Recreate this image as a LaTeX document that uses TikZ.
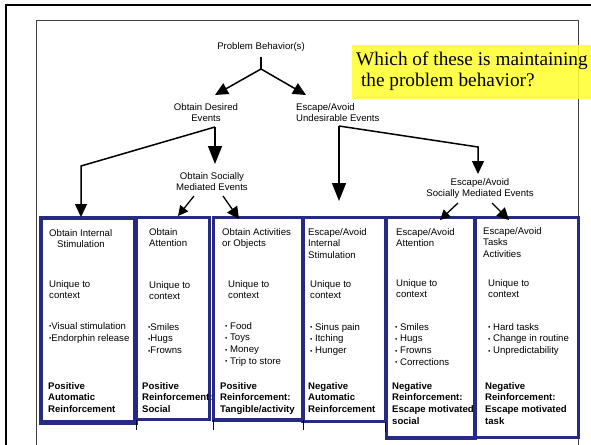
\documentclass[tikz,border=0pt]{standalone}
\usepackage{fontspec}
\setmainfont{Liberation Sans}
\newfontfamily\timesf{Liberation Serif}
\usetikzlibrary{arrows.meta}
\definecolor{navy}{RGB}{38,42,130}
\definecolor{hiyel}{RGB}{255,255,51}
\newcommand\bul{{\fontsize{6.5}{6}\selectfont\raisebox{0.7pt}{•}}}
\begin{document}
\begin{tikzpicture}[x=1pt,y=-1pt,
  txt/.style={inner sep=0pt, font=\fontsize{9.6}{11.8}\selectfont, align=left, anchor=north west},
  btxt/.style={txt, font=\fontsize{9.6}{11.8}\selectfont\bfseries},
  ctxt/.style={inner sep=0pt, font=\fontsize{9.6}{11.6}\selectfont, align=center, anchor=north},
  bx/.style={draw=navy, anchor=north west, inner sep=0pt, line width=1.8pt},
  conn/.style={draw=black, line width=1.5pt},
  arr/.style={conn, -{Triangle[length=13pt,width=12pt]}},
  bigarr/.style={conn, -{Triangle[length=18pt,width=14pt]}},
  smallarr/.style={draw=black, line width=1.3pt, -{Triangle[length=10pt,width=10pt]}},
  tick/.style={draw=black, line width=0.8pt}]
\useasboundingbox (0,0) rectangle (591,444);
\clip (0,0) rectangle (591,444);
\fill[white] (0,0) rectangle (591,444);

% frames
\draw[line width=2pt] (6,450) -- (6,5) -- (600,5);
\draw[line width=0.9pt, black!75] (36,450) -- (36,20) -- (578,20) -- (578,450);

% highlight
\fill[hiyel, fill opacity=0.88] (352,45) rectangle (600,99);
\node[inner sep=0pt, anchor=north west, align=left, font=\timesf\fontsize{19.3}{21}\selectfont] (q) at (356,52)
  {Which of these is maintaining\\\hspace*{4.8pt}the problem behavior?};

% top texts
\node[inner sep=0pt, font=\fontsize{9.6}{11.6}\selectfont] (pb) at (261,47) {Problem Behavior(s)};
\node[ctxt] (od) at (206,103) {Obtain Desired\\Events};
\node[txt] (ea) at (296,103) {Escape/Avoid\\Undesirable Events};
\node[ctxt] (osm) at (212,172) {Obtain Socially\\Mediated Events};
\node[ctxt] (esm) at (480,178) {Escape/Avoid\\Socially Mediated Events};

% boxes
\node[bx, line width=3pt, minimum width=93pt, minimum height=203pt] (b1) at (40,217) {};
\node[bx, minimum width=72pt, minimum height=201pt] (b2) at (136,217) {};
\node[bx, line width=2.4pt, minimum width=88pt, minimum height=201pt] (b3) at (213,217) {};
\node[bx, minimum width=82pt, minimum height=203pt] (b4) at (302,217) {};
\node[bx, line width=2.4pt, minimum width=87pt, minimum height=219pt] (b5) at (386,217) {};
\node[bx, line width=2pt, minimum width=103pt, minimum height=219pt] (b6) at (474,217) {};

% box 1
\node[txt] (t1a) at (49,229) {Obtain Internal\\\hspace*{8pt}Stimulation};
\node[txt] (t1b) at (49,280) {Unique to\\context};
\node[txt] (t1c) at (49,322.5) {\bul Visual stimulation\\\bul Endorphin release};
\node[btxt] (t1d) at (48,382) {Positive\\Automatic\\Reinforcement};
% box 2
\node[txt] (t2a) at (149,228) {Obtain\\Attention};
\node[txt] (t2b) at (149,281) {Unique to\\context};
\node[txt] (t2c) at (148,323) {\bul Smiles\\\bul Hugs\\\bul Frowns};
\node[btxt] (t2d) at (142,382) {Positive\\Reinforcement:\\Social};
% box 3
\node[txt] (t3a) at (222,228) {Obtain Activities\\or Objects};
\node[txt] (t3b) at (228,280) {Unique to\\context};
\node[txt] (t3c) at (225,322) {\bul\ Food\\\bul\ Toys\\\bul\ Money\\\bul\ Trip to store};
\node[btxt] (t3d) at (220,382) {Positive\\Reinforcement:\\Tangible/activity};
% box 4
\node[txt] (t4a) at (308,228) {Escape/Avoid\\Internal\\Stimulation};
\node[txt] (t4b) at (310,280) {Unique to\\context};
\node[txt] (t4c) at (310,323) {\bul\ Sinus pain\\\bul\ Itching\\\bul\ Hunger};
\node[btxt] (t4d) at (308,382) {Negative\\Automatic\\Reinforcement};
% box 5
\node[txt] (t5a) at (396,228) {Escape/Avoid\\Attention};
\node[txt] (t5b) at (396,279) {Unique to\\context};
\node[txt] (t5c) at (395,323) {\bul\ Smiles\\\bul\ Hugs\\\bul\ Frowns\\\bul\ Corrections};
\node[btxt] (t5d) at (392,382) {Negative\\Reinforcement:\\Escape motivated\\social};
% box 6
\node[txt] (t6a) at (483,227) {Escape/Avoid\\Tasks\\Activities};
\node[txt] (t6b) at (488,279) {Unique to\\context};
\node[txt] (t6c) at (488,323) {\bul\ Hard tasks\\\bul\ Change in routine\\\bul\ Unpredictability};
\node[btxt] (t6d) at (485,382) {Negative\\Reinforcement:\\Escape motivated\\task};

% redraw box borders on top of text
\draw[navy, line width=3pt] (b1.north west) rectangle (b1.south east);
\draw[navy, line width=1.8pt] (b2.north west) rectangle (b2.south east);
\draw[navy, line width=2.4pt] (b3.north west) rectangle (b3.south east);
\draw[navy, line width=1.8pt] (b4.north west) rectangle (b4.south east);
\draw[navy, line width=2.4pt] (b5.north west) rectangle (b5.south east);
\draw[navy, line width=2pt] (b6.north west) rectangle (b6.south east);

% ticks below boxes
\draw[tick] (b2.south west) -- ++(0,10);
\draw[tick] (b3.south west) -- ++(0,10);
\draw[tick] (b3.south east) -- ++(0,10);
\draw[tick] (b4.south east) -- ++(0,10);

% connectors
\coordinate (pbS) at (261,57);
\coordinate (pbJ) at (261,69);
\coordinate (odTip) at (215,95);
\coordinate (eaTip) at (306,95);
\draw[conn, line width=1.2pt] (pbS) -- (pbJ);
\draw[arr] (pbJ) -- (odTip);
\draw[arr] (pbJ) -- (eaTip);

\coordinate (odJ) at (215,127);
\coordinate (osmTip) at (215,164);
\coordinate (b1K) at (81,166);
\draw[bigarr] (odJ) -- (osmTip);
\draw[arr] (odJ) -- (b1K) -- (b1K |- b1.north);

\coordinate (eaJ) at (339,126);
\coordinate (b4Tip) at (339,201);
\coordinate (esK) at (478,147);
\coordinate (esmTip) at (478,174);
\draw[bigarr] (eaJ) -- (b4Tip);
\draw[arr] (eaJ) -- (esK) -- (esmTip);

\coordinate (s1) at (194,196);
\coordinate (s2) at (223,196);
\coordinate (s3) at (458,203);
\coordinate (s4) at (492,203);
\draw[smallarr] (s1) -- (178,216) coordinate (s1t);
\draw[smallarr, -{Triangle[length=12pt,width=12pt]}] (s2) -- (239,219) coordinate (s2t);
\draw[smallarr] (s3) -- (440,220) coordinate (s3t);
\draw[smallarr, -{Triangle[length=12pt,width=12pt]}] (s4) -- (509,220) coordinate (s4t);
\end{tikzpicture}
\end{document}
